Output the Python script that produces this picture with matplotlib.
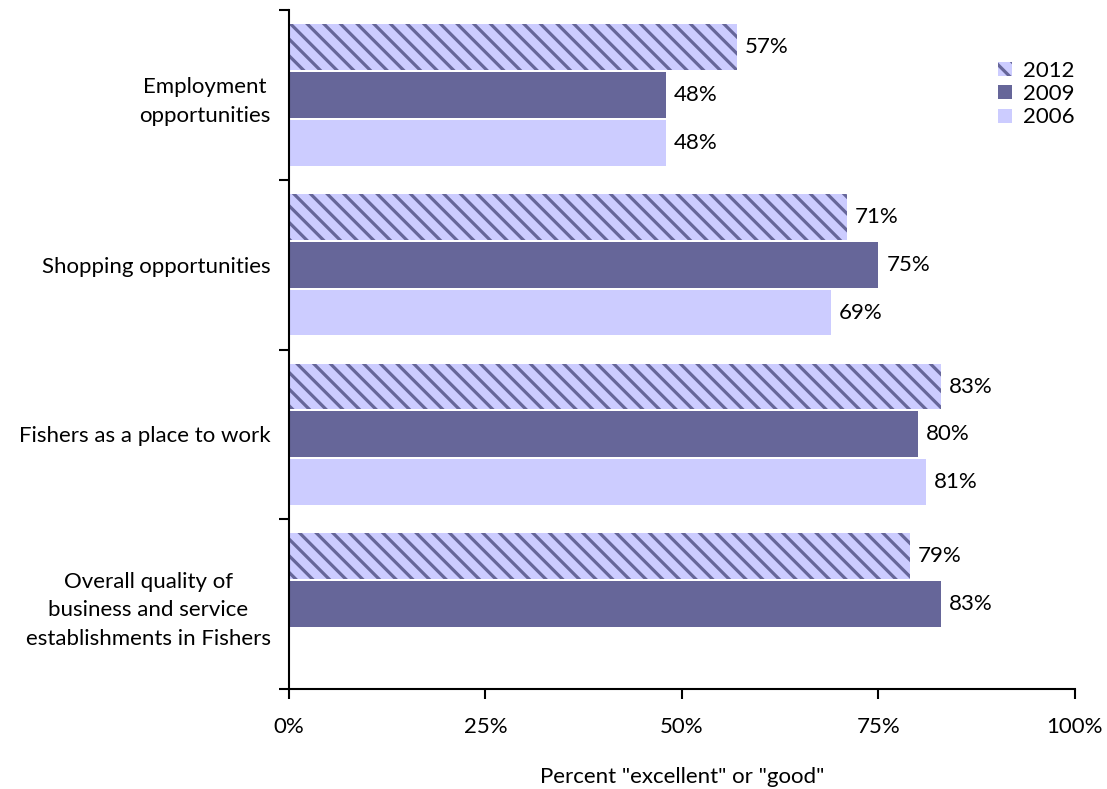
import matplotlib.pyplot as plt
import numpy as np
import matplotlib

matplotlib.rcParams['font.family'] = ['Lato', 'DejaVu Sans']
matplotlib.rcParams['hatch.linewidth'] = 2.3

categories = ['Employment\nopportunities', 'Shopping opportunities',
              'Fishers as a place to work',
              'Overall quality of\nbusiness and service\nestablishments in Fishers']
years = ['2012', '2009', '2006']
v2012 = [57, 71, 83, 79]
v2009 = [48, 75, 80, 83]
v2006 = [48, 69, 81, None]

light = '#ccccff'
dark = '#666699'
fs = 16

fig = plt.figure(figsize=(11.07, 7.89), dpi=100)
ax = fig.add_axes([0.261, 0.127, 0.710, 0.860])

step = 0.282
h = 0.27
centers = np.arange(len(categories)) + 0.5

handles = []
for j, (vals, yr) in enumerate(zip([v2012, v2009, v2006], years)):
    ys, ws = [], []
    for c, v in zip(centers, vals):
        if v is None:
            continue
        ys.append(c + (j - 1) * step)
        ws.append(v)
    if yr == '2012':
        b = ax.barh(ys, ws, height=h, color=light, edgecolor=dark,
                    hatch='\\\\', linewidth=0, label=yr)
    elif yr == '2009':
        b = ax.barh(ys, ws, height=h, color=dark, linewidth=0, label=yr)
    else:
        b = ax.barh(ys, ws, height=h, color=light, linewidth=0, label=yr)
    handles.append(b)
    for y, w in zip(ys, ws):
        ax.text(w + 1.0, y, f'{w}%', va='center', ha='left', fontsize=fs)

ax.set_xlim(0, 100)
ax.set_ylim(4, 0)
ax.set_xticks([0, 25, 50, 75, 100])
ax.set_xticklabels(['0%', '25%', '50%', '75%', '100%'], fontsize=fs)
ax.set_yticks([0, 1, 2, 3, 4])
ax.set_yticklabels([])
ax.set_yticks(centers, minor=True)
ax.set_yticklabels(categories, minor=True, fontsize=fs, multialignment='center',
                   linespacing=1.55)
ax.tick_params(axis='y', which='minor', length=0, pad=13)
ax.tick_params(axis='both', which='major', length=7, width=1.5, direction='out')
ax.tick_params(axis='x', pad=13)
for s in ['top', 'right']:
    ax.spines[s].set_visible(False)
for s in ['left', 'bottom']:
    ax.spines[s].set_linewidth(1.5)

ax.set_xlabel('Percent "excellent" or "good"', fontsize=fs, labelpad=22)

leg = ax.legend(handles=handles, loc='upper right', bbox_to_anchor=(1.025, 0.955),
                frameon=False, fontsize=fs, handlelength=0.6, handleheight=0.6,
                handletextpad=0.5, labelspacing=0.15)

fig.savefig('out.png', dpi=100)
